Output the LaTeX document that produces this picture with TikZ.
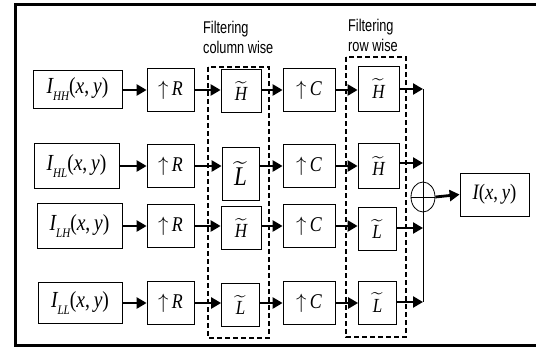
\documentclass[tikz,border=0pt]{standalone}
\usepackage{amsmath}
\usepackage{fontspec}
\setmainfont{Liberation Serif}[FakeStretch=0.85]
\newfontfamily\lblfont{Liberation Sans}[FakeStretch=0.75]
\usetikzlibrary{arrows.meta,shapes.geometric}
\newcommand\Isub[1]{{\itshape I}\raisebox{-0.3em}{\fontsize{13}{13}\selectfont\itshape #1}(\textit{x},\,\textit{y})}
\newcommand\tld[1]{$\widetilde{\hbox{\itshape #1}}$}
\tikzset{
  blk/.style={draw, line width=0.8pt, inner sep=0pt, minimum height=43pt},
  arr/.style={line width=2.8pt, -{Triangle[length=10pt,width=11pt]}},
  dbox/.style={line width=1.8pt, dash pattern=on 5pt off 3pt},
  lbl/.style={font=\lblfont\fontsize{17}{20}\selectfont, align=left, anchor=west, inner sep=0pt},
  ifnt/.style={font=\fontsize{23}{23}\selectfont},
  rfnt/.style={font=\fontsize{21}{21}\selectfont},
  hfnt/.style={font=\fontsize{20}{20}\selectfont}
}
\begin{document}
\begin{tikzpicture}[x=1pt,y=-1pt]
\useasboundingbox (0,0) rectangle (536,348);
% outer frame
\draw[line width=3pt] (540,4.5) -- (15,4.5) -- (15,345.5) -- (540,345.5);
% dashed groups
\draw[dbox] (208,67) rectangle (269,338);
\draw[dbox] (346,57) rectangle (406,337);
\node[lbl] (t1) at (203,37) {Filtering\\column wise};
\node[lbl] (t2) at (348,35.5) {Filtering\\row wise};
% inputs
\node[blk, ifnt, minimum width=89pt, minimum height=38pt] (I1) at (77.5,89) {\Isub{HH}};
\node[blk, ifnt, minimum width=85pt, minimum height=45pt] (I2) at (76.5,166) {\Isub{HL}};
\node[blk, ifnt, minimum width=85pt, minimum height=45pt] (I3) at (79.5,226) {\Isub{LH}};
\node[blk, ifnt, minimum width=84pt, minimum height=41pt] (I4) at (80,303) {\Isub{LL}};
% up R and up C
\foreach \i/\y in {1/90,2/166,3/226,4/303}{
  \node[blk, rfnt, minimum width=47pt] (R\i) at (170.5,\y) {$\uparrow$\,\textit{R}};
  \node[blk, rfnt, minimum width=52pt] (C\i) at (309,\y) {$\uparrow$\,\textit{C}};
}
% column filters
\node[blk, hfnt, minimum width=40pt] (F1) at (241,91) {\tld{H}};
\node[blk, font=\fontsize{27}{27}\selectfont, minimum width=37pt, minimum height=53pt] (F2) at (240.5,173.5) {\tld{L}};
\node[blk, hfnt, minimum width=40pt] (F3) at (241,228) {\tld{H}};
\node[blk, hfnt, minimum width=38pt] (F4) at (240.5,305) {\tld{L}};
% row filters
\node[blk, hfnt, minimum width=41pt, minimum height=45pt] (G1) at (378.5,88.5) {\tld{H}};
\node[blk, hfnt, minimum width=41pt, minimum height=45pt] (G2) at (378.5,166) {\tld{H}};
\node[blk, hfnt, minimum width=38pt] (G3) at (377,229) {\tld{L}};
\node[blk, hfnt, minimum width=38pt] (G4) at (377.5,302.5) {\tld{L}};
% sum
\node[draw, line width=0.8pt, ellipse, minimum width=24pt, minimum height=30pt, inner sep=0pt] (S) at (423,197) {};
\node[blk, font=\fontsize{22}{22}\selectfont, minimum width=69pt] (O) at (494.5,194.5) {{\itshape I}(\textit{x},\,\textit{y})};
% end points on collector line
\foreach \i/\y in {1/89,2/163,3/228,4/302}{
  \coordinate (E\i) at (423,\y);
}
% arrows
\foreach \i in {1,2,3,4}{
  \draw[arr] (I\i.east |- R\i) -- (R\i.west);
  \draw[arr] (R\i.east) -- (R\i.east -| F\i.west);
  \draw[arr] (F\i.east |- C\i) -- (C\i.west);
  \draw[arr] (C\i.east) -- (C\i.east -| G\i.west);
  \draw[arr] (G\i.east |- E\i) -- (E\i);
}
\draw[line width=0.8pt] (E1) -- (E4);
\draw[line width=0.8pt] (S.west) -- (S.east);
\draw[arr] (S.east) -- (O.west);
\end{tikzpicture}
\end{document}
